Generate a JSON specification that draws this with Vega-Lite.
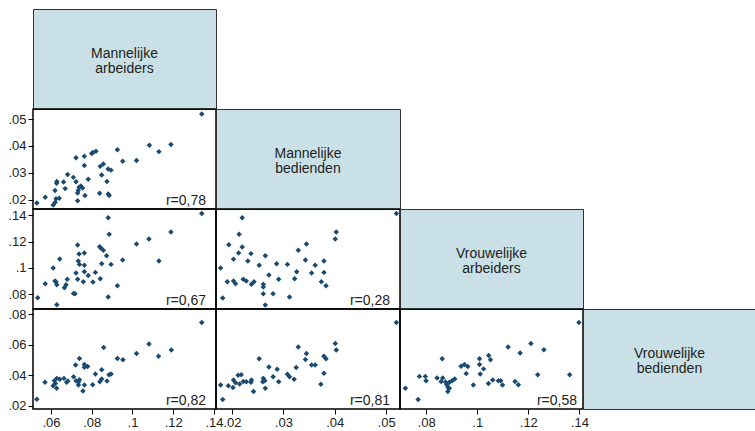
{
  "$schema": "https://vega.github.io/schema/vega-lite/v6.json",
  "padding": {"left": 7, "top": 8, "right": 0, "bottom": 0},
  "background": "white",
  "columns": 4,
  "spacing": 0,
  "bounds": "flush",
  "config": {
    "font": "Liberation Sans",
    "view": {"stroke": "#000", "strokeWidth": 1.5},
    "axis": {"domain": false, "grid": false, "ticks": true, "tickColor": "#000", "tickSize": 5, "tickWidth": 1, "labelFont": "Liberation Sans", "labelFontSize": 13, "labelColor": "#222", "labelPadding": 2, "labelFlush": false, "labelOverlap": false},
    "text": {"font": "Liberation Sans"}
  },
  "concat": [
    {"width": 183, "height": 100, "view": {"fill": "#c9e1e6", "stroke": "#333", "strokeWidth": 1},
     "data": {"values": [{"label": "Mannelijke\narbeiders"}]},
     "mark": {"type": "text", "lineBreak": "\n", "fontSize": 14, "lineHeight": 15, "color": "#222", "align": "center", "baseline": "middle", "dy": -5},
     "encoding": {"text": {"field": "label"}}},
    {"width": 184, "height": 100, "view": {"stroke": null}, "data": {"values": []}, "mark": "point", "encoding": {}},
    {"width": 183, "height": 100, "view": {"stroke": null}, "data": {"values": []}, "mark": "point", "encoding": {}},
    {"width": 173, "height": 100, "view": {"stroke": null}, "data": {"values": []}, "mark": "point", "encoding": {}},

    {"width": 183, "height": 100,
     "layer": [
      {"data": {"values": [
        {"x": 0.134, "y": 0.0519}, {"x": 0.1083, "y": 0.0403}, {"x": 0.1189, "y": 0.0406}, {"x": 0.113, "y": 0.0379},
        {"x": 0.102, "y": 0.0346}, {"x": 0.0926, "y": 0.0386}, {"x": 0.0952, "y": 0.0343}, {"x": 0.0821, "y": 0.038},
        {"x": 0.0806, "y": 0.0376}, {"x": 0.08, "y": 0.0372}, {"x": 0.0764, "y": 0.0362}, {"x": 0.0723, "y": 0.0356},
        {"x": 0.0764, "y": 0.0327}, {"x": 0.0857, "y": 0.0333}, {"x": 0.0842, "y": 0.0324}, {"x": 0.0881, "y": 0.0314},
        {"x": 0.0895, "y": 0.031}, {"x": 0.0849, "y": 0.0292}, {"x": 0.0783, "y": 0.0276}, {"x": 0.0875, "y": 0.0268},
        {"x": 0.0682, "y": 0.0294}, {"x": 0.071, "y": 0.0283}, {"x": 0.0723, "y": 0.0267}, {"x": 0.0662, "y": 0.0266},
        {"x": 0.0629, "y": 0.0268}, {"x": 0.0628, "y": 0.0261}, {"x": 0.0747, "y": 0.0251}, {"x": 0.0738, "y": 0.0246},
        {"x": 0.0755, "y": 0.0243}, {"x": 0.0734, "y": 0.0234}, {"x": 0.0731, "y": 0.0225}, {"x": 0.067, "y": 0.0241},
        {"x": 0.062, "y": 0.0234}, {"x": 0.0839, "y": 0.0224}, {"x": 0.0881, "y": 0.0221}, {"x": 0.0886, "y": 0.0215},
        {"x": 0.0767, "y": 0.0215}, {"x": 0.0731, "y": 0.0196}, {"x": 0.0641, "y": 0.0205}, {"x": 0.0625, "y": 0.0203},
        {"x": 0.0621, "y": 0.019}, {"x": 0.0611, "y": 0.018}, {"x": 0.0572, "y": 0.0209}, {"x": 0.0531, "y": 0.0187}
       ]},
       "mark": {"type": "point", "shape": "diamond", "filled": true, "size": 30, "color": "#1a4a70", "opacity": 1},
       "encoding": {
        "x": {"field": "x", "type": "quantitative", "scale": {"domain": [0.0512, 0.141], "nice": false, "zero": false}, "axis": null},
        "y": {"field": "y", "type": "quantitative", "scale": {"domain": [0.0165, 0.0538], "nice": false, "zero": false},
              "axis": {"title": null, "values": [0.02, 0.03, 0.04, 0.05], "format": ".2~f", "labelExpr": "replace(datum.label, '0.', '.')"}}
       }},
      {"data": {"values": [{"r": "r=0,78"}]},
       "mark": {"type": "text", "align": "right", "baseline": "bottom", "dx": -10, "dy": -1, "fontSize": 14, "color": "#222"},
       "encoding": {"text": {"field": "r"}, "x": {"value": "width"}, "y": {"value": "height"}}}
     ]},
    {"width": 184, "height": 100, "view": {"fill": "#c9e1e6", "stroke": "#333", "strokeWidth": 1},
     "data": {"values": [{"label": "Mannelijke\nbedienden"}]},
     "mark": {"type": "text", "lineBreak": "\n", "fontSize": 14, "lineHeight": 15, "color": "#222", "align": "center", "baseline": "middle", "dy": -5},
     "encoding": {"text": {"field": "label"}}},
    {"width": 183, "height": 100, "view": {"stroke": null}, "data": {"values": []}, "mark": "point", "encoding": {}},
    {"width": 173, "height": 100, "view": {"stroke": null}, "data": {"values": []}, "mark": "point", "encoding": {}},

    {"width": 183, "height": 100,
     "layer": [
      {"data": {"values": [
        {"x": 0.134, "y": 0.1413}, {"x": 0.0881, "y": 0.1382}, {"x": 0.1189, "y": 0.1273}, {"x": 0.0886, "y": 0.1255},
        {"x": 0.1081, "y": 0.122}, {"x": 0.102, "y": 0.1181}, {"x": 0.0731, "y": 0.1174}, {"x": 0.0839, "y": 0.1161},
        {"x": 0.0845, "y": 0.1151}, {"x": 0.0857, "y": 0.1133}, {"x": 0.0764, "y": 0.1113}, {"x": 0.0738, "y": 0.1105},
        {"x": 0.0873, "y": 0.1092}, {"x": 0.0643, "y": 0.1067}, {"x": 0.0952, "y": 0.1059}, {"x": 0.0734, "y": 0.1052},
        {"x": 0.113, "y": 0.1052}, {"x": 0.074, "y": 0.1026}, {"x": 0.0764, "y": 0.1019}, {"x": 0.0849, "y": 0.1031},
        {"x": 0.0895, "y": 0.1026}, {"x": 0.0611, "y": 0.0998}, {"x": 0.0764, "y": 0.097}, {"x": 0.0818, "y": 0.0965},
        {"x": 0.0723, "y": 0.096}, {"x": 0.0783, "y": 0.0942}, {"x": 0.0731, "y": 0.0912}, {"x": 0.068, "y": 0.0912},
        {"x": 0.0842, "y": 0.0917}, {"x": 0.062, "y": 0.0899}, {"x": 0.0625, "y": 0.0891}, {"x": 0.0759, "y": 0.0894},
        {"x": 0.0806, "y": 0.0891}, {"x": 0.0629, "y": 0.0871}, {"x": 0.0674, "y": 0.0871}, {"x": 0.0572, "y": 0.0879},
        {"x": 0.0666, "y": 0.0848}, {"x": 0.0926, "y": 0.0864}, {"x": 0.0711, "y": 0.0805}, {"x": 0.0718, "y": 0.0802},
        {"x": 0.0881, "y": 0.0777}, {"x": 0.0535, "y": 0.0772}, {"x": 0.0629, "y": 0.0719}
       ]},
       "mark": {"type": "point", "shape": "diamond", "filled": true, "size": 30, "color": "#1a4a70", "opacity": 1},
       "encoding": {
        "x": {"field": "x", "type": "quantitative", "scale": {"domain": [0.0512, 0.141], "nice": false, "zero": false}, "axis": null},
        "y": {"field": "y", "type": "quantitative", "scale": {"domain": [0.0686, 0.1448], "nice": false, "zero": false},
              "axis": {"title": null, "values": [0.08, 0.1, 0.12, 0.14], "format": ".2~f", "labelExpr": "replace(datum.label, '0.', '.')"}}
       }},
      {"data": {"values": [{"r": "r=0,67"}]},
       "mark": {"type": "text", "align": "right", "baseline": "bottom", "dx": -10, "dy": -1, "fontSize": 14, "color": "#222"},
       "encoding": {"text": {"field": "r"}, "x": {"value": "width"}, "y": {"value": "height"}}}
     ]},
    {"width": 184, "height": 100,
     "layer": [
      {"data": {"values": [
        {"x": 0.052, "y": 0.1413}, {"x": 0.022, "y": 0.1382}, {"x": 0.0403, "y": 0.1273}, {"x": 0.0401, "y": 0.122},
        {"x": 0.0214, "y": 0.1255}, {"x": 0.0194, "y": 0.1176}, {"x": 0.022, "y": 0.1158}, {"x": 0.0345, "y": 0.1181},
        {"x": 0.0213, "y": 0.1113}, {"x": 0.0237, "y": 0.1108}, {"x": 0.0329, "y": 0.1133}, {"x": 0.0265, "y": 0.1092},
        {"x": 0.0203, "y": 0.1066}, {"x": 0.0231, "y": 0.1052}, {"x": 0.0343, "y": 0.1059}, {"x": 0.0379, "y": 0.1052},
        {"x": 0.0287, "y": 0.1031}, {"x": 0.0308, "y": 0.1026}, {"x": 0.0253, "y": 0.1019}, {"x": 0.0362, "y": 0.1019},
        {"x": 0.0178, "y": 0.0998}, {"x": 0.0326, "y": 0.097}, {"x": 0.0355, "y": 0.096}, {"x": 0.0379, "y": 0.0965},
        {"x": 0.0272, "y": 0.0945}, {"x": 0.0322, "y": 0.0917}, {"x": 0.0291, "y": 0.0912}, {"x": 0.0222, "y": 0.0912},
        {"x": 0.0228, "y": 0.0899}, {"x": 0.0191, "y": 0.0894}, {"x": 0.0203, "y": 0.0899}, {"x": 0.0207, "y": 0.0879},
        {"x": 0.0243, "y": 0.0894}, {"x": 0.0238, "y": 0.0874}, {"x": 0.0261, "y": 0.0874}, {"x": 0.0261, "y": 0.0853},
        {"x": 0.0374, "y": 0.0894}, {"x": 0.0383, "y": 0.0864}, {"x": 0.028, "y": 0.0802}, {"x": 0.0261, "y": 0.0802},
        {"x": 0.0312, "y": 0.0777}, {"x": 0.0182, "y": 0.0769}, {"x": 0.0265, "y": 0.0716}
       ]},
       "mark": {"type": "point", "shape": "diamond", "filled": true, "size": 30, "color": "#1a4a70", "opacity": 1},
       "encoding": {
        "x": {"field": "x", "type": "quantitative", "scale": {"domain": [0.0169, 0.0527], "nice": false, "zero": false}, "axis": null},
        "y": {"field": "y", "type": "quantitative", "scale": {"domain": [0.0686, 0.1448], "nice": false, "zero": false}, "axis": null}
       }},
      {"data": {"values": [{"r": "r=0,28"}]},
       "mark": {"type": "text", "align": "right", "baseline": "bottom", "dx": -10, "dy": -1, "fontSize": 14, "color": "#222"},
       "encoding": {"text": {"field": "r"}, "x": {"value": "width"}, "y": {"value": "height"}}}
     ]},
    {"width": 183, "height": 100, "view": {"fill": "#c9e1e6", "stroke": "#333", "strokeWidth": 1},
     "data": {"values": [{"label": "Vrouwelijke\narbeiders"}]},
     "mark": {"type": "text", "lineBreak": "\n", "fontSize": 14, "lineHeight": 15, "color": "#222", "align": "center", "baseline": "middle", "dy": -5},
     "encoding": {"text": {"field": "label"}}},
    {"width": 173, "height": 100, "view": {"stroke": null}, "data": {"values": []}, "mark": "point", "encoding": {}},

    {"width": 183, "height": 100,
     "layer": [
      {"data": {"values": [
        {"x": 0.134, "y": 0.0745}, {"x": 0.1081, "y": 0.0604}, {"x": 0.0859, "y": 0.0582}, {"x": 0.1191, "y": 0.0565},
        {"x": 0.102, "y": 0.0543}, {"x": 0.1128, "y": 0.0525}, {"x": 0.0926, "y": 0.051}, {"x": 0.0953, "y": 0.0501},
        {"x": 0.074, "y": 0.051}, {"x": 0.0721, "y": 0.0468}, {"x": 0.0764, "y": 0.047}, {"x": 0.0764, "y": 0.0453},
        {"x": 0.078, "y": 0.0457}, {"x": 0.0849, "y": 0.0437}, {"x": 0.0818, "y": 0.0409}, {"x": 0.0711, "y": 0.0391},
        {"x": 0.0885, "y": 0.0404}, {"x": 0.0895, "y": 0.0409}, {"x": 0.0849, "y": 0.0376}, {"x": 0.0664, "y": 0.038},
        {"x": 0.0629, "y": 0.038}, {"x": 0.0643, "y": 0.0374}, {"x": 0.0677, "y": 0.0354}, {"x": 0.0683, "y": 0.0363},
        {"x": 0.0723, "y": 0.0365}, {"x": 0.074, "y": 0.0371}, {"x": 0.0571, "y": 0.0354}, {"x": 0.0617, "y": 0.0365},
        {"x": 0.0622, "y": 0.0347}, {"x": 0.0735, "y": 0.0354}, {"x": 0.084, "y": 0.0358}, {"x": 0.0875, "y": 0.0363},
        {"x": 0.0735, "y": 0.0336}, {"x": 0.0764, "y": 0.0336}, {"x": 0.0805, "y": 0.0338}, {"x": 0.0611, "y": 0.0332},
        {"x": 0.0628, "y": 0.0316}, {"x": 0.0757, "y": 0.0297}, {"x": 0.0531, "y": 0.0244}
       ]},
       "mark": {"type": "point", "shape": "diamond", "filled": true, "size": 30, "color": "#1a4a70", "opacity": 1},
       "encoding": {
        "x": {"field": "x", "type": "quantitative", "scale": {"domain": [0.0512, 0.141], "nice": false, "zero": false},
              "axis": {"title": null, "values": [0.06, 0.08, 0.1, 0.12, 0.14], "format": ".2~f", "labelExpr": "replace(datum.label, '0.', '.')"}},
        "y": {"field": "y", "type": "quantitative", "scale": {"domain": [0.018, 0.0833], "nice": false, "zero": false},
              "axis": {"title": null, "values": [0.02, 0.04, 0.06, 0.08], "format": ".2~f", "labelExpr": "replace(datum.label, '0.', '.')"}}
       }},
      {"data": {"values": [{"r": "r=0,82"}]},
       "mark": {"type": "text", "align": "right", "baseline": "bottom", "dx": -10, "dy": -1, "fontSize": 14, "color": "#222"},
       "encoding": {"text": {"field": "r"}, "x": {"value": "width"}, "y": {"value": "height"}}}
     ]},
    {"width": 184, "height": 100,
     "layer": [
      {"data": {"values": [
        {"x": 0.052, "y": 0.0745}, {"x": 0.0401, "y": 0.0607}, {"x": 0.0403, "y": 0.0565}, {"x": 0.0329, "y": 0.0585},
        {"x": 0.0345, "y": 0.0543}, {"x": 0.0343, "y": 0.0503}, {"x": 0.0379, "y": 0.0525}, {"x": 0.0383, "y": 0.0508},
        {"x": 0.0253, "y": 0.0508}, {"x": 0.0355, "y": 0.0468}, {"x": 0.0362, "y": 0.0468}, {"x": 0.0325, "y": 0.0451},
        {"x": 0.0272, "y": 0.0455}, {"x": 0.0288, "y": 0.044}, {"x": 0.0379, "y": 0.0413}, {"x": 0.0218, "y": 0.0404},
        {"x": 0.0212, "y": 0.04}, {"x": 0.0308, "y": 0.0407}, {"x": 0.0312, "y": 0.0391}, {"x": 0.028, "y": 0.0391},
        {"x": 0.0321, "y": 0.0374}, {"x": 0.0291, "y": 0.0358}, {"x": 0.0261, "y": 0.038}, {"x": 0.0264, "y": 0.0365},
        {"x": 0.026, "y": 0.0358}, {"x": 0.0203, "y": 0.0369}, {"x": 0.0222, "y": 0.036}, {"x": 0.0228, "y": 0.0358},
        {"x": 0.0238, "y": 0.0369}, {"x": 0.0237, "y": 0.0354}, {"x": 0.0215, "y": 0.0343}, {"x": 0.0207, "y": 0.0352},
        {"x": 0.0193, "y": 0.0332}, {"x": 0.0178, "y": 0.0336}, {"x": 0.0202, "y": 0.0321}, {"x": 0.0373, "y": 0.0341},
        {"x": 0.0265, "y": 0.0316}, {"x": 0.0242, "y": 0.0295}, {"x": 0.0182, "y": 0.0242}
       ]},
       "mark": {"type": "point", "shape": "diamond", "filled": true, "size": 30, "color": "#1a4a70", "opacity": 1},
       "encoding": {
        "x": {"field": "x", "type": "quantitative", "scale": {"domain": [0.0169, 0.0527], "nice": false, "zero": false},
              "axis": {"title": null, "values": [0.02, 0.03, 0.04, 0.05], "format": ".2~f", "labelExpr": "replace(datum.label, '0.', '.')"}},
        "y": {"field": "y", "type": "quantitative", "scale": {"domain": [0.018, 0.0833], "nice": false, "zero": false}, "axis": null}
       }},
      {"data": {"values": [{"r": "r=0,81"}]},
       "mark": {"type": "text", "align": "right", "baseline": "bottom", "dx": -10, "dy": -1, "fontSize": 14, "color": "#222"},
       "encoding": {"text": {"field": "r"}, "x": {"value": "width"}, "y": {"value": "height"}}}
     ]},
    {"width": 183, "height": 100,
     "layer": [
      {"data": {"values": [
        {"x": 0.1398, "y": 0.0745}, {"x": 0.121, "y": 0.0607}, {"x": 0.1121, "y": 0.0585}, {"x": 0.1261, "y": 0.0567},
        {"x": 0.1168, "y": 0.0545}, {"x": 0.0863, "y": 0.0508}, {"x": 0.1045, "y": 0.053}, {"x": 0.1052, "y": 0.0501},
        {"x": 0.1009, "y": 0.0508}, {"x": 0.095, "y": 0.047}, {"x": 0.0937, "y": 0.0459}, {"x": 0.0963, "y": 0.0457},
        {"x": 0.1009, "y": 0.047}, {"x": 0.1025, "y": 0.0442}, {"x": 0.1012, "y": 0.0409}, {"x": 0.0957, "y": 0.0411},
        {"x": 0.1237, "y": 0.0404}, {"x": 0.1362, "y": 0.0404}, {"x": 0.0774, "y": 0.0393}, {"x": 0.0797, "y": 0.0393},
        {"x": 0.08, "y": 0.0365}, {"x": 0.0843, "y": 0.0382}, {"x": 0.0865, "y": 0.0382}, {"x": 0.0912, "y": 0.0376},
        {"x": 0.0902, "y": 0.0365}, {"x": 0.0891, "y": 0.0354}, {"x": 0.0876, "y": 0.0356}, {"x": 0.0859, "y": 0.036},
        {"x": 0.0881, "y": 0.0338}, {"x": 0.0886, "y": 0.0321}, {"x": 0.0891, "y": 0.0316}, {"x": 0.0885, "y": 0.0295},
        {"x": 0.0985, "y": 0.0336}, {"x": 0.1044, "y": 0.0347}, {"x": 0.1061, "y": 0.0369}, {"x": 0.1083, "y": 0.0365},
        {"x": 0.1092, "y": 0.0365}, {"x": 0.1099, "y": 0.0336}, {"x": 0.1148, "y": 0.036}, {"x": 0.1161, "y": 0.0338},
        {"x": 0.0719, "y": 0.0316}, {"x": 0.0769, "y": 0.0242}
       ]},
       "mark": {"type": "point", "shape": "diamond", "filled": true, "size": 30, "color": "#1a4a70", "opacity": 1},
       "encoding": {
        "x": {"field": "x", "type": "quantitative", "scale": {"domain": [0.0698, 0.1414], "nice": false, "zero": false},
              "axis": {"title": null, "values": [0.08, 0.1, 0.12, 0.14], "format": ".2~f", "labelExpr": "replace(datum.label, '0.', '.')"}},
        "y": {"field": "y", "type": "quantitative", "scale": {"domain": [0.018, 0.0833], "nice": false, "zero": false}, "axis": null}
       }},
      {"data": {"values": [{"r": "r=0,58"}]},
       "mark": {"type": "text", "align": "right", "baseline": "bottom", "dx": -6, "dy": -1, "fontSize": 14, "color": "#222"},
       "encoding": {"text": {"field": "r"}, "x": {"value": "width"}, "y": {"value": "height"}}}
     ]},
    {"width": 173, "height": 100, "view": {"fill": "#c9e1e6", "stroke": "#333", "strokeWidth": 1},
     "data": {"values": [{"label": "Vrouwelijke\nbedienden"}]},
     "mark": {"type": "text", "lineBreak": "\n", "fontSize": 14, "lineHeight": 15, "color": "#222", "align": "center", "baseline": "middle", "dy": -5},
     "encoding": {"text": {"field": "label"}}}
  ]
}
